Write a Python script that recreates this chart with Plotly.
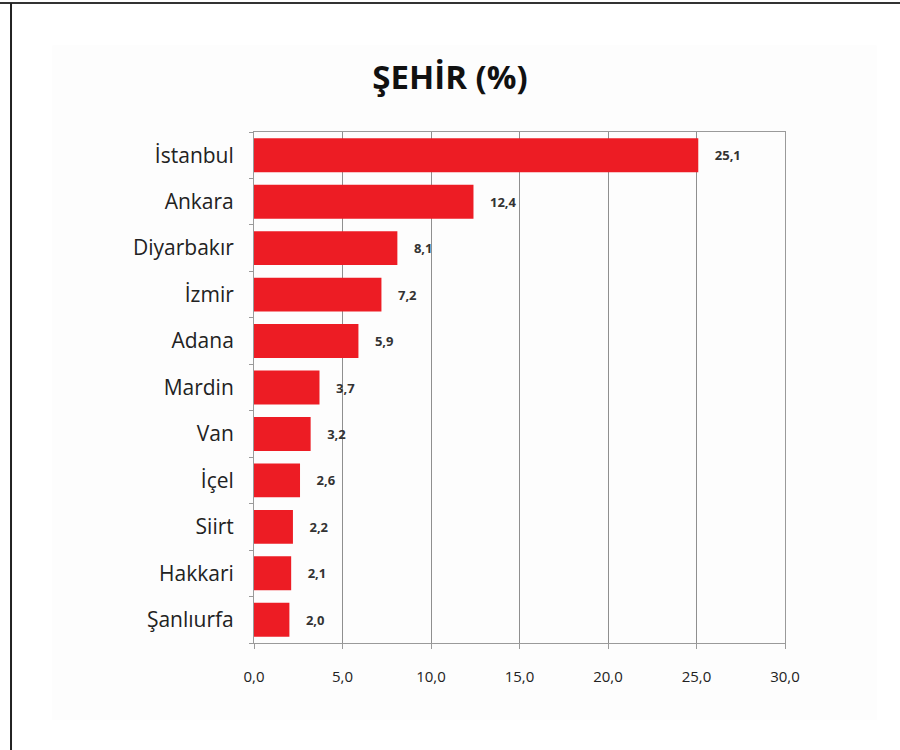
import plotly.graph_objects as go

cities = ["İstanbul", "Ankara", "Diyarbakır", "İzmir", "Adana", "Mardin", "Van", "İçel", "Siirt", "Hakkari", "Şanlıurfa"]
values = [25.1, 12.4, 8.1, 7.2, 5.9, 3.7, 3.2, 2.6, 2.2, 2.1, 2.0]
x_ticks = [0, 5, 10, 15, 20, 25, 30]
x_tick_labels = ["0,0", "5,0", "10,0", "15,0", "20,0", "25,0", "30,0"]

fig = go.Figure()
fig.add_trace(go.Bar(
    x=values,
    y=cities,
    orientation="h",
    marker=dict(color="#ed1c24", line=dict(width=0)),
    text=["    " + f"{v:.1f}".replace(".", ",") for v in values],
    textposition="outside",
    cliponaxis=False,
    textfont=dict(family="Open Sans", size=13, color="#333333", weight="bold"),
    hoverinfo="skip",
))

fig.update_layout(
    width=900,
    height=750,
    margin=dict(l=254, r=115, t=132, b=107),
    paper_bgcolor="white",
    plot_bgcolor="white",
    bargap=0.27,
    showlegend=False,
    title=dict(
        text="<b>ŞEHİR (%)</b>",
        x=0.5,
        xanchor="center",
        y=0.897,
        yanchor="middle",
        font=dict(family="Open Sans", size=33, color="#111111"),
    ),
    shapes=[
        dict(type="rect", xref="paper", yref="paper", x0=-0.38, x1=1.173, y0=-0.151, y1=1.17,
             line=dict(width=0), fillcolor="#fdfdfd", layer="below"),
        dict(type="line", xref="paper", yref="paper", x0=-0.5, x1=1.25, y0=1.2524, y1=1.2524,
             line=dict(color="#333333", width=2)),
        dict(type="line", xref="paper", yref="paper", x0=-0.4576, x1=-0.4576, y0=-0.25, y1=1.2524,
             line=dict(color="#222222", width=2)),
    ],
)

fig.update_xaxes(
    range=[0, 30],
    tickvals=x_ticks,
    ticktext=x_tick_labels,
    showgrid=True,
    gridcolor="#8f8f8f",
    gridwidth=1,
    showline=True,
    linecolor="#9a9a9a",
    linewidth=1,
    mirror=True,
    ticks="outside",
    ticklen=5,
    tickcolor="#9a9a9a",
    tickfont=dict(family="Open Sans", size=15, color="#222222"),
    ticklabelstandoff=15,
    zeroline=False,
)
fig.update_yaxes(
    categoryorder="array",
    categoryarray=cities[::-1],
    showline=True,
    linecolor="#9a9a9a",
    linewidth=1,
    mirror=True,
    ticks="outside",
    tickson="boundaries",
    ticklen=4,
    tickcolor="#9a9a9a",
    showgrid=False,
    tickfont=dict(family="Open Sans", size=21, color="#222222"),
    ticklabelstandoff=15,
)

fig.write_html("out.html", config={"displayModeBar": False},
               post_script="document.body.style.margin='0';")
